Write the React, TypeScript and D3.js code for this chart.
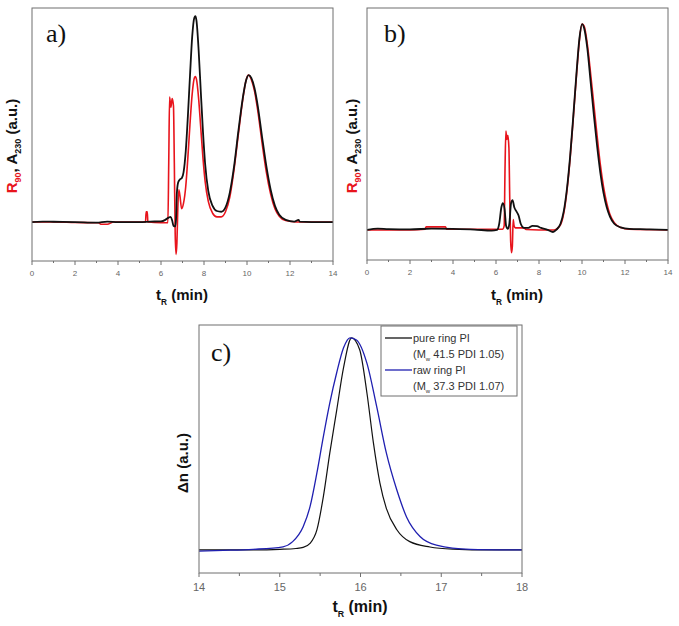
import React from "react";
import * as d3 from "d3";

type Pt = [number, number];

// ---------- Panel a (R90 red, A230 black) ----------
const aBlack: Pt[] = [
  [0, 0], [0.5, 0.3], [1, 0.2], [2, 0], [3, -0.4], [3.5, 0.3], [4, 0], [5, 0], [5.5, 0.3],
  [6.0, 0.5], [6.2, 1.5], [6.35, 3], [6.45, 3.5], [6.52, 1], [6.58, -2.5], [6.66, -3],
  [6.7, 2], [6.74, 20], [6.8, 27], [6.88, 29], [6.97, 30], [7.05, 34], [7.15, 48], [7.25, 72],
  [7.35, 100], [7.45, 126], [7.55, 139], [7.6, 140], [7.65, 137], [7.75, 117], [7.85, 89],
  [7.95, 62], [8.05, 40], [8.2, 21], [8.4, 11], [8.6, 7.5], [8.8, 7], [9.0, 10], [9.2, 20],
  [9.4, 38], [9.6, 62], [9.8, 84], [9.95, 96], [10.08, 100], [10.2, 98], [10.35, 91],
  [10.5, 79], [10.7, 58], [10.9, 38], [11.1, 22], [11.3, 11], [11.5, 5], [11.8, 1.5],
  [12.2, 0.3], [12.4, 1.5], [12.45, 0.3], [13, 0], [14, 0],
];
const aRed: Pt[] = [
  [0, 0], [1, 0], [2, -0.3], [3.1, -0.5], [3.2, -1.5], [3.5, -1.5], [3.8, 0], [5.28, 0],
  [5.31, 7], [5.36, 7], [5.39, 0], [6.0, -0.5], [6.32, -0.5], [6.36, 40], [6.4, 85],
  [6.46, 78], [6.52, 84], [6.58, 79], [6.62, 40], [6.66, -8], [6.7, -22], [6.74, -14],
  [6.78, 8], [6.83, 22], [6.88, 18], [6.96, 9], [7.05, 13], [7.15, 24], [7.25, 44],
  [7.35, 67], [7.45, 87], [7.55, 98], [7.6, 99], [7.65, 97], [7.75, 84], [7.85, 64],
  [7.95, 44], [8.05, 28], [8.2, 14], [8.4, 6], [8.6, 3.5], [8.8, 3.5], [9.0, 7], [9.2, 17],
  [9.4, 36], [9.6, 60], [9.8, 83], [9.95, 96], [10.06, 100], [10.2, 97], [10.35, 89],
  [10.5, 76], [10.7, 54], [10.9, 34], [11.1, 19], [11.3, 9], [11.5, 4], [11.8, 1],
  [12.3, 0], [14, 0],
];

// ---------- Panel b ----------
const bBlack: Pt[] = [
  [0, 0], [0.5, 0.6], [1, 0.4], [2, 0.3], [3, 0.6], [4, 0.5], [5, 0.2], [5.8, -0.3],
  [6.05, 0], [6.15, 3], [6.25, 11], [6.32, 13], [6.4, 10], [6.47, 2], [6.55, 0.5],
  [6.62, 3], [6.7, 13], [6.77, 14.5], [6.85, 11], [6.95, 9], [7.05, 7], [7.15, 3],
  [7.3, 1], [7.5, 1], [7.7, 2], [7.9, 1.8], [8.1, 1], [8.4, 0], [8.65, -1], [8.8, 0],
  [9.0, 3], [9.15, 9], [9.3, 20], [9.45, 36], [9.6, 56], [9.75, 77], [9.88, 93], [10.0, 100],
  [10.1, 98], [10.25, 88], [10.4, 72], [10.55, 56], [10.7, 41], [10.85, 28], [11.0, 18],
  [11.15, 11], [11.3, 6.5], [11.5, 3], [11.8, 1.2], [12.2, 0.5], [13, 0.3], [14, 0],
];
const bRed: Pt[] = [
  [0, 0], [1, 0], [2, 0], [2.7, 0.3], [2.75, 1.5], [3.65, 1.5], [3.7, 0.4], [5, 0.3],
  [6.3, 0.3], [6.38, 2], [6.42, 30], [6.46, 48], [6.5, 44], [6.55, 46], [6.6, 40],
  [6.64, 15], [6.68, -5], [6.72, -11], [6.76, -8], [6.8, 5], [6.84, 2], [6.9, 1],
  [7.3, 1], [7.4, 0.2], [8.0, 0], [8.7, 0], [9.0, 2.5], [9.15, 8], [9.3, 19], [9.45, 35],
  [9.6, 55], [9.75, 76], [9.88, 92], [10.0, 100], [10.1, 99], [10.25, 90], [10.4, 76],
  [10.55, 61], [10.7, 46], [10.85, 32], [11.0, 21], [11.15, 13], [11.3, 7.5], [11.5, 3.5],
  [11.8, 1.2], [12.2, 0.3], [14, 0],
];

// ---------- Panel c ----------
const cPure: Pt[] = [
  [14, 0.5], [14.6, 0.5], [15.0, 0.8], [15.2, 1.2], [15.29, 1.7], [15.375, 3.6],
  [15.46, 9.9], [15.54, 25.5], [15.62, 46], [15.705, 66], [15.79, 86], [15.89, 100],
  [15.99, 94.4], [16.08, 74], [16.16, 50.7], [16.24, 32], [16.32, 20], [16.45, 10],
  [16.61, 4.4], [16.86, 1.9], [17.15, 0.9], [17.6, 0.5], [18, 0.5],
];
const cRaw: Pt[] = [
  [14, 0], [14.3, 0.3], [14.67, 0.8], [15.04, 2], [15.16, 4.4], [15.29, 11.4],
  [15.375, 20.8], [15.46, 36.6], [15.54, 53.7], [15.62, 69.5], [15.705, 83.6],
  [15.79, 95.3], [15.87, 100], [15.95, 99], [16.08, 88], [16.2, 67.8], [16.32, 46],
  [16.45, 28.6], [16.57, 16], [16.74, 6.7], [16.94, 2.8], [17.36, 0.8], [18, 0.5],
];

const abMajor = [0, 2, 4, 6, 8, 10, 12, 14];
const abMinor = [1, 3, 5, 7, 9, 11, 13];
const cMajor = [14, 15, 16, 17, 18];
const cMinor = [14.5, 15.5, 16.5, 17.5];

const legendNames = ["pure ring PI", "raw ring PI"];
const legendMw = ["41.5", "37.3"];
const legendPdi = ["1.05", "1.07"];

const RED = "#e8141c";
const BLACK = "#111111";
const BLUE = "#1f1fb0";
const FRAME = "#6f6f6f";

type PanelProps = {
  x0: number; x1: number; y0: number; y1: number;
  xDomain: [number, number]; yDomain: [number, number];
  series: { data: Pt[]; color: string; width: number }[];
  major: number[]; minor: number[];
  tickFont: number; tickDy: number; majorLen: number; minorLen: number;
};

function Panel(p: PanelProps) {
  const x = d3.scaleLinear().domain(p.xDomain).range([p.x0, p.x1]);
  const y = d3.scaleLinear().domain(p.yDomain).range([p.y1, p.y0]);
  const line = d3.line<Pt>().x((d) => x(d[0])).y((d) => y(d[1])).curve(d3.curveMonotoneX);
  return (
    <g>
      <defs>
        <clipPath id={`clip-${p.x0}-${p.y0}`}>
          <rect x={p.x0} y={p.y0} width={p.x1 - p.x0} height={p.y1 - p.y0} />
        </clipPath>
      </defs>
      <g clipPath={`url(#clip-${p.x0}-${p.y0})`}>
        {p.series.map((s, i) => (
          <path key={i} d={line(s.data) || ""} fill="none" stroke={s.color}
            strokeWidth={s.width} strokeLinejoin="round" />
        ))}
      </g>
      <rect x={p.x0} y={p.y0} width={p.x1 - p.x0} height={p.y1 - p.y0}
        fill="none" stroke={FRAME} strokeWidth={1} />
      {p.major.map((t) => (
        <g key={"M" + t}>
          <line x1={x(t)} x2={x(t)} y1={p.y1} y2={p.y1 + p.majorLen} stroke={FRAME} />
          <text x={x(t)} y={p.y1 + p.tickDy} textAnchor="middle" fontSize={p.tickFont}
            fill="#666" fontFamily="Liberation Sans, Arial, sans-serif">{t}</text>
        </g>
      ))}
      {p.minor.map((t) => (
        <line key={"m" + t} x1={x(t)} x2={x(t)} y1={p.y1} y2={p.y1 + p.minorLen} stroke={FRAME} />
      ))}
    </g>
  );
}

const SANS = "Liberation Sans, Arial, sans-serif";
const SERIF = "Liberation Serif, Times New Roman, serif";

function YLabelAB({ cx, cy }: { cx: number; cy: number }) {
  return (
    <text transform={`translate(${cx},${cy}) rotate(-90)`} textAnchor="middle"
      fontFamily={SANS} fontWeight="bold" fontSize={15}>
      <tspan fill={RED}>R</tspan>
      <tspan fill={RED} fontSize={9} dy={4}>90</tspan>
      <tspan fill={BLACK} dy={-4}>, A</tspan>
      <tspan fill={BLACK} fontSize={9} dy={4}>230</tspan>
      <tspan fill={BLACK} dy={-4}> (a.u.)</tspan>
    </text>
  );
}

function XLabel({ cx, y, size }: { cx: number; y: number; size: number }) {
  return (
    <text x={cx} y={y} textAnchor="middle" fontFamily={SANS} fontWeight="bold" fontSize={size} fill={BLACK}>
      <tspan>t</tspan>
      <tspan fontSize={size * 0.55} dy={size * 0.3}>R</tspan>
      <tspan dy={-size * 0.3}> (min)</tspan>
    </text>
  );
}

export default function App() {
  const lx = d3.scaleLinear().domain([0, 1]).range([385, 412]);
  return (
    <svg width={679} height={626} style={{ position: "absolute", left: 0, top: 0, background: "#fff" }}>
      <Panel x0={32} x1={333} y0={8} y1={261} xDomain={[0, 14]} yDomain={[-26.5, 145.6]}
        series={[{ data: aRed, color: RED, width: 1.6 }, { data: aBlack, color: BLACK, width: 1.8 }]}
        major={abMajor} minor={abMinor} tickFont={8} tickDy={15} majorLen={4} minorLen={2} />
      <Panel x0={367} x1={668} y0={8} y1={260} xDomain={[0, 14]} yDomain={[-14.6, 107.8]}
        series={[{ data: bRed, color: RED, width: 1.6 }, { data: bBlack, color: BLACK, width: 1.8 }]}
        major={abMajor} minor={abMinor} tickFont={8} tickDy={15} majorLen={4} minorLen={2} />
      <Panel x0={199} x1={522} y0={325} y1={573} xDomain={[14, 18]} yDomain={[-10.3, 106]}
        series={[{ data: cPure, color: BLACK, width: 1.2 }, { data: cRaw, color: BLUE, width: 1.3 }]}
        major={cMajor} minor={cMinor} tickFont={11} tickDy={18} majorLen={4} minorLen={3} />

      <text x={46} y={42} fontFamily={SERIF} fontSize={26} fill={BLACK}>a)</text>
      <text x={384} y={42} fontFamily={SERIF} fontSize={26} fill={BLACK}>b)</text>
      <text x={211} y={361} fontFamily={SERIF} fontSize={26} fill={BLACK}>c)</text>

      <YLabelAB cx={17} cy={146} />
      <YLabelAB cx={357} cy={146} />
      <text transform="translate(188,463) rotate(-90)" textAnchor="middle" fontFamily={SANS}
        fontWeight="bold" fontSize={15} fill={BLACK}>Δn (a.u.)</text>

      <XLabel cx={182} y={300} size={15} />
      <XLabel cx={517} y={300} size={15} />
      <XLabel cx={360} y={612} size={16} />

      <rect x={381} y={326} width={136} height={70} fill="#fff" stroke={FRAME} strokeWidth={1} />
      {legendNames.map((n, i) => {
        const yy = 338 + i * 32;
        return (
          <g key={n} fontFamily={SANS} fontSize={11} fill="#333">
            <line x1={lx(0)} x2={lx(1)} y1={yy} y2={yy} stroke={i === 0 ? BLACK : BLUE} strokeWidth={1.3} />
            <text x={413} y={yy + 4}>{n}</text>
            <text x={413} y={yy + 20}>
              <tspan>(M</tspan>
              <tspan fontSize={6} dy={3}>w</tspan>
              <tspan dy={-3}> {legendMw[i]} PDI {legendPdi[i]})</tspan>
            </text>
          </g>
        );
      })}
    </svg>
  );
}
